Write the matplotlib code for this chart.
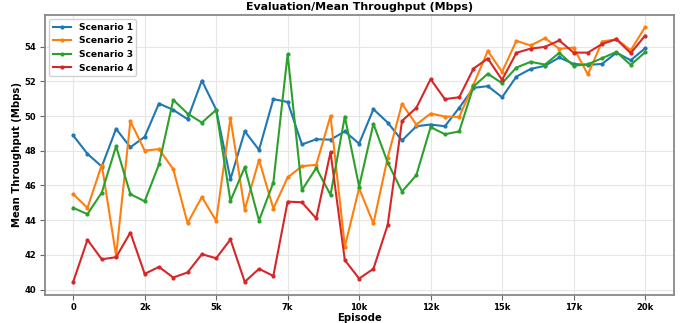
import matplotlib
matplotlib.use('Agg')
import matplotlib.pyplot as plt
from matplotlib.ticker import FuncFormatter, MultipleLocator
import numpy as np

episodes = np.arange(0, 20001, 500)

scenario_1 = [48.88, 47.82, 47.09, 49.26, 48.20, 48.80, 50.72, 50.35, 49.82, 52.04,
              50.37, 46.36, 49.12, 48.05, 50.97, 50.81, 48.36, 48.66, 48.64, 49.11,
              48.41, 50.39, 49.62, 48.59, 49.41, 49.51, 49.41, 50.47, 51.62, 51.72,
              51.08, 52.27, 52.71, 52.89, 53.37, 53.00, 52.94, 53.00, 53.65, 53.21,
              53.90]
scenario_2 = [45.50, 44.71, 47.19, 41.95, 49.70, 48.01, 48.09, 46.94, 43.83, 45.34,
              43.96, 49.87, 44.60, 47.47, 44.67, 46.46, 47.11, 47.19, 50.01, 42.48,
              45.84, 43.81, 47.61, 50.70, 49.51, 50.14, 49.97, 49.95, 51.81, 53.75,
              52.54, 54.33, 54.06, 54.48, 53.87, 53.94, 52.39, 54.29, 54.42, 53.79,
              55.11]
scenario_3 = [44.71, 44.35, 45.59, 48.26, 45.50, 45.09, 47.21, 50.93, 50.14, 49.62,
              50.35, 45.11, 47.05, 43.98, 46.17, 53.56, 45.73, 47.01, 45.46, 49.97,
              45.94, 49.55, 47.32, 45.65, 46.59, 49.36, 48.95, 49.11, 51.70, 52.43,
              51.89, 52.79, 53.12, 52.96, 53.64, 52.89, 52.98, 53.33, 53.69, 52.94,
              53.67]
scenario_4 = [40.45, 42.87, 41.75, 41.87, 43.29, 40.91, 41.31, 40.70, 40.99, 42.04,
              41.81, 42.89, 40.45, 41.20, 40.79, 45.07, 45.03, 44.10, 47.92, 41.70,
              40.64, 41.20, 43.73, 49.72, 50.47, 52.12, 50.97, 51.08, 52.73, 53.31,
              52.08, 53.64, 53.88, 53.98, 54.35, 53.65, 53.65, 54.15, 54.42, 53.62,
              54.63]

series = [('Scenario 1', scenario_1, '#1f77b4'),
          ('Scenario 2', scenario_2, '#ff7f0e'),
          ('Scenario 3', scenario_3, '#2ca02c'),
          ('Scenario 4', scenario_4, '#d62728')]

plt.rcParams['font.weight'] = 'bold'
plt.rcParams['axes.labelweight'] = 'bold'
plt.rcParams['axes.titleweight'] = 'bold'

fig, ax = plt.subplots(figsize=(6.86, 3.23), dpi=100)
fig.subplots_adjust(left=0.065, right=0.982, top=0.955, bottom=0.088)

for name, vals, col in series:
    ax.plot(episodes, vals, color=col, linewidth=1.5, marker='o', markersize=2.0, label=name)

ax.xaxis.set_major_locator(MultipleLocator(2500))
ax.xaxis.set_major_formatter(FuncFormatter(lambda x, p: '0' if x == 0 else f'{int(x / 1000)}k'))
ax.yaxis.set_major_locator(MultipleLocator(2))
ax.tick_params(labelsize=6.0, length=3.5, color='#666666', pad=2.5)
ax.grid(True, color='#e6e6e6', linewidth=0.8)
for sp in ax.spines.values():
    sp.set_color('#888888')
    sp.set_linewidth(1.3)

ax.set_title('Evaluation/Mean Throughput (Mbps)', fontsize=7.9, pad=3)
ax.set_xlabel('Episode', fontsize=7.3, labelpad=1)
ax.set_ylabel('Mean Throughput (Mbps)', fontsize=7.3, labelpad=1.5)
ax.legend(loc='upper left', prop={'weight': 'bold', 'size': 6.6},
          handlelength=2, borderpad=0.4, labelspacing=0.5, framealpha=0.9)

fig.savefig('out.png', dpi=100)
